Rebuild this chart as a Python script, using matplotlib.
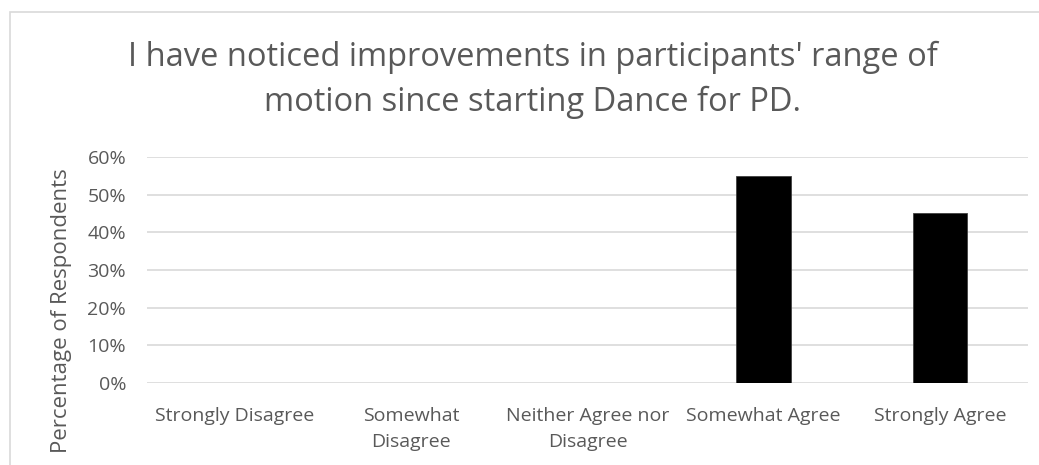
import matplotlib.pyplot as plt
from matplotlib.patches import Rectangle
from matplotlib.ticker import PercentFormatter

categories = ['Strongly Disagree', 'Somewhat\nDisagree', 'Neither Agree nor\nDisagree',
              'Somewhat Agree', 'Strongly Agree']
values = [0, 0, 0, 55, 45]
title = "I have noticed improvements in participants' range of\nmotion since starting Dance for PD."

plt.rcParams['font.family'] = ['Open Sans', 'DejaVu Sans']
grey = '#595959'

W, H = 1039, 465
fig = plt.figure(figsize=(W / 100, H / 100), dpi=100)

# chart frame (right and bottom edges lie outside the picture)
fig.patches.append(Rectangle((10 / W, -0.1), 1.1, 1.1 - 12 / H, transform=fig.transFigure,
                             fill=False, edgecolor='#d9d9d9', linewidth=1.2))

ax = fig.add_axes([147 / W, 1 - 383 / H, 881 / W, 226 / H])
x = range(len(categories))
ax.bar(x, values, width=0.31, color='black', edgecolor='#404040', linewidth=0.6, zorder=3)
ax.set_xlim(-0.5, len(categories) - 0.5)
ax.set_ylim(0, 60)
ax.set_yticks(range(0, 61, 10))
ax.yaxis.set_major_formatter(PercentFormatter(decimals=0))
ax.set_xticks(list(x))
ax.set_xticklabels(categories, fontsize=14, color=grey, linespacing=1.6)
ax.tick_params(axis='y', labelsize=14, colors=grey, length=0, pad=15)
ax.tick_params(axis='x', length=0, pad=17)
ax.grid(axis='y', color='#d9d9d9', linewidth=1.2, zorder=0)
for s in ax.spines.values():
    s.set_visible(False)

fig.text(533 / W, 1 - 80 / H, title, ha='center', va='center', fontsize=23.5, color=grey, linespacing=1.45)
fig.text(62 / W, 1 - 311 / H, 'Percentage of Respondents', rotation=90, ha='center', va='center',
         fontsize=16, color=grey)

fig.savefig('out.png', dpi=100)
